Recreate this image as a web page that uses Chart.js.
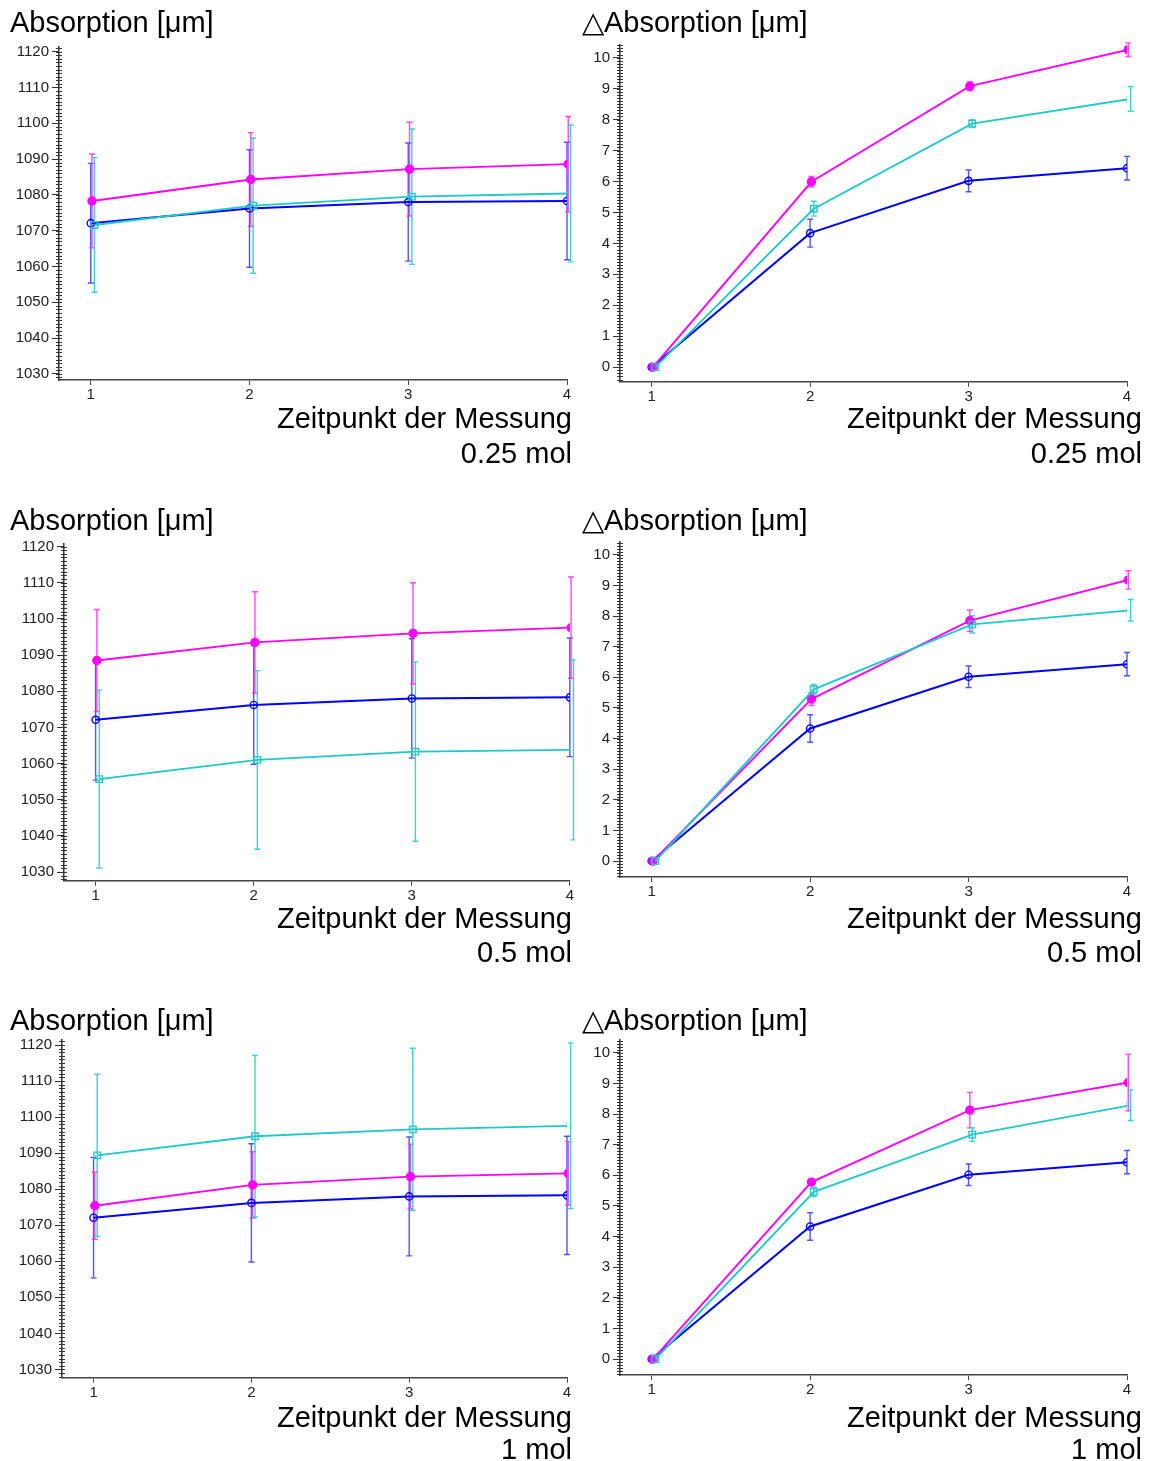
<!DOCTYPE html>
<html>
<head>
<meta charset="utf-8">
<script src="https://cdn.jsdelivr.net/npm/chart.js@4"></script>
<style>
html, body { margin: 0; padding: 0; background: #fff; overflow: hidden; }
canvas { position: absolute; }
</style>
</head>
<body>
<canvas id="p1" width="575" height="471" style="left:0;top:0"></canvas>
<canvas id="p2" width="576" height="471" style="left:575px;top:0"></canvas>
<canvas id="p3" width="575" height="471" style="left:0;top:495px"></canvas>
<canvas id="p4" width="576" height="471" style="left:575px;top:495px"></canvas>
<canvas id="p5" width="575" height="471" style="left:0;top:990px"></canvas>
<canvas id="p6" width="576" height="471" style="left:575px;top:990px"></canvas>
<script>
var zeitpunkte = [1, 2, 3, 4];

// Absorption, Kontrolle (blau) ist in allen drei Konzentrationen gleich
var absKontrolle = [1072.1, 1076.2, 1078.0, 1078.3];
var absKontrolleSD = [16.7, 16.4, 16.5, 16.4];

var abs025Magenta = [1078.3, 1084.3, 1087.2, 1088.6];
var abs025MagentaSD = [13.1, 13.1, 13.1, 13.3];
var abs025Cyan = [1071.6, 1077.0, 1079.5, 1080.4];
var abs025CyanSD = [18.8, 18.9, 18.9, 19.1];

var abs05Magenta = [1088.5, 1093.5, 1096.0, 1097.6];
var abs05MagentaSD = [14.1, 14.0, 14.0, 14.0];
var abs05Cyan = [1055.7, 1061.0, 1063.3, 1063.8];
var abs05CyanSD = [24.6, 24.7, 24.8, 24.9];

var abs1Magenta = [1075.4, 1081.2, 1083.5, 1084.4];
var abs1MagentaSD = [9.3, 9.2, 9.0, 8.8];
var abs1Cyan = [1089.4, 1094.7, 1096.6, 1097.6];
var abs1CyanSD = [22.5, 22.4, 22.5, 23.0];

// Delta Absorption
var dKontrolle = [0, 4.33, 6.02, 6.43];
var dKontrolleSD = [0, 0.45, 0.35, 0.38];

var d025Magenta = [0, 5.99, 9.08, 10.26];
var d025MagentaSD = [0, 0.17, 0.14, 0.22];
var d025Cyan = [0, 5.12, 7.87, 8.67];
var d025CyanSD = [0, 0.24, 0.13, 0.40];

var d05Magenta = [0, 5.29, 7.85, 9.18];
var d05MagentaSD = [0, 0.21, 0.35, 0.30];
var d05Cyan = [0, 5.61, 7.73, 8.19];
var d05CyanSD = [0, 0.16, 0.28, 0.35];

var d1Magenta = [0, 5.78, 8.13, 9.03];
var d1MagentaSD = [0, 0.08, 0.58, 0.92];
var d1Cyan = [0, 5.46, 7.33, 8.29];
var d1CyanSD = [0, 0.15, 0.22, 0.50];

var stilBlau = { farbe: '#0000ff', balken: 'rgba(40,40,255,0.8)', punkt: 'circle', radius: 3.6, fuellung: 'rgba(0,0,0,0)', dodge: 0, order: 2, breite: 2 };
var stilMagenta = { farbe: '#ff00ff', balken: 'rgba(255,40,255,0.85)', punkt: 'circle', radius: 4, fuellung: '#ff00ff', dodge: 0.008, order: 1, breite: 1.9 };
var stilCyan = { farbe: '#20c8c8', balken: 'rgba(32,200,200,0.85)', punkt: 'rect', radius: 4.6, fuellung: 'rgba(0,0,0,0)', dodge: 0.023, order: 0, breite: 1.9 };

var schrift = 'Liberation Sans, Arial, Helvetica, sans-serif';

// Fehlerbalken (Mittelwert +/- SD)
var fehlerbalken = {
    id: 'fehlerbalken',
    beforeDatasetsDraw: function (chart) {
        var ctx = chart.ctx;
        var y = chart.scales.y;
        ctx.save();
        chart.data.datasets.forEach(function (ds, i) {
            var meta = chart.getDatasetMeta(i);
            ctx.strokeStyle = ds.balkenFarbe;
            ctx.lineWidth = 1.4;
            meta.data.forEach(function (pt, j) {
                var sd = ds.fehler[j];
                if (!sd) return;
                var v = ds.data[j].y;
                var oben = y.getPixelForValue(v + sd);
                var unten = y.getPixelForValue(v - sd);
                ctx.beginPath();
                ctx.moveTo(pt.x, oben); ctx.lineTo(pt.x, unten);
                ctx.moveTo(pt.x - 3, oben); ctx.lineTo(pt.x + 3, oben);
                ctx.moveTo(pt.x - 3, unten); ctx.lineTo(pt.x + 3, unten);
                ctx.stroke();
            });
        });
        ctx.restore();
    }
};

// kleine Zwischenstriche an der y-Achse (ueber die Achse hinweg)
var nebenstriche = {
    id: 'nebenstriche',
    afterDraw: function (chart, args, opts) {
        var y = chart.scales.y;
        var ctx = chart.ctx;
        var x0 = chart.chartArea.left;
        ctx.save();
        ctx.strokeStyle = '#333';
        ctx.lineWidth = 1;
        var start = Math.ceil(y.min / opts.schritt - 1e-6);
        var ende = Math.floor(y.max / opts.schritt + 1e-6);
        ctx.beginPath();
        for (var k = start; k <= ende; k++) {
            var py = Math.round(y.getPixelForValue(k * opts.schritt)) + 0.5;
            ctx.moveTo(x0 - 3, py);
            ctx.lineTo(x0 + 3, py);
        }
        ctx.stroke();
        ctx.restore();
    }
};

// Achsenbeschriftung unten rechts
var unterschrift = {
    id: 'unterschrift',
    afterDraw: function (chart, args, opts) {
        var ctx = chart.ctx;
        ctx.save();
        ctx.fillStyle = '#000';
        ctx.font = '29px ' + schrift;
        ctx.textAlign = 'right';
        ctx.textBaseline = 'middle';
        opts.zeilen.forEach(function (z, i) {
            ctx.fillText(z, opts.rechts, opts.y[i]);
        });
        ctx.restore();
    }
};

function reihe(werte, sd, stil) {
    return {
        data: zeitpunkte.map(function (t, i) { return { x: t + stil.dodge, y: werte[i] }; }),
        fehler: sd,
        balkenFarbe: stil.balken,
        borderColor: stil.farbe,
        backgroundColor: stil.farbe,
        borderWidth: stil.breite,
        pointStyle: stil.punkt,
        pointRadius: stil.radius,
        pointBackgroundColor: stil.fuellung,
        pointBorderColor: stil.farbe,
        pointBorderWidth: 1.4,
        tension: 0,
        order: stil.order
    };
}

function diagramm(id, g) {
    var breite = document.getElementById(id).width;
    var titelPadTop = g.titelY - 17.4;
    new Chart(document.getElementById(id), {
        type: 'line',
        data: { datasets: g.reihen },
        plugins: [fehlerbalken, nebenstriche, unterschrift],
        options: {
            responsive: false,
            animation: false,
            layout: { autoPadding: false, padding: { left: g.titelX, right: breite - g.rechts, top: 0, bottom: 0 } },
            scales: {
                x: {
                    type: 'linear',
                    min: 0.8,
                    max: 4,
                    afterFit: function (s) { s.height = 471 - g.unten; },
                    border: { display: true, color: '#444', width: 1.5 },
                    grid: { display: true, drawOnChartArea: false, tickLength: 5, color: '#444' },
                    ticks: {
                        stepSize: 1, includeBounds: false, padding: 1, color: '#222',
                        font: { family: schrift, size: 15 },
                        callback: function (v) { return String(v); }
                    }
                },
                y: {
                    min: g.yMin,
                    max: g.yMax,
                    afterFit: function (s) { s.width = g.links - g.titelX; },
                    border: { display: true, color: '#333', width: 1.5 },
                    grid: { display: true, drawOnChartArea: false, tickLength: 7, color: '#333' },
                    ticks: {
                        stepSize: g.schritt, includeBounds: false, padding: 3, color: '#222',
                        font: { family: schrift, size: 15 },
                        callback: function (v) { return String(v); }
                    }
                }
            },
            plugins: {
                legend: { display: false },
                tooltip: { enabled: false },
                title: {
                    display: true,
                    text: g.titel,
                    align: 'start',
                    color: '#000',
                    font: { family: schrift, size: 29, weight: 'normal', lineHeight: 1.2 },
                    padding: { top: titelPadTop, bottom: g.oben - 34.8 - titelPadTop }
                },
                nebenstriche: { schritt: g.neben },
                unterschrift: { zeilen: ['Zeitpunkt der Messung', g.mol], rechts: g.textRechts, y: g.textY }
            }
        }
    });
}

var titelAbs = 'Absorption [\u03bcm]';
var titelDelta = '\u25b3Absorption [\u03bcm]';

diagramm('p1', {
    titel: titelAbs, mol: '0.25 mol', titelX: 10, titelY: 24, oben: 47, unten: 380, links: 59, rechts: 567,
    textRechts: 572, textY: [420, 455], yMin: 1028.3, yMax: 1121.3, schritt: 10, neben: 1,
    reihen: [reihe(absKontrolle, absKontrolleSD, stilBlau), reihe(abs025Magenta, abs025MagentaSD, stilMagenta), reihe(abs025Cyan, abs025CyanSD, stilCyan)]
});
diagramm('p2', {
    titel: titelDelta, mol: '0.25 mol', titelX: 7, titelY: 24, oben: 45, unten: 381.7, links: 45, rechts: 552,
    textRechts: 567, textY: [420, 455], yMin: -0.47, yMax: 10.41, schritt: 1, neben: 0.1,
    reihen: [reihe(dKontrolle, dKontrolleSD, stilBlau), reihe(d025Magenta, d025MagentaSD, stilMagenta), reihe(d025Cyan, d025CyanSD, stilCyan)]
});
diagramm('p3', {
    titel: titelAbs, mol: '0.5 mol', titelX: 10, titelY: 27, oben: 48.3, unten: 385.7, links: 64, rechts: 571,
    textRechts: 572, textY: [425, 459], yMin: 1027.6, yMax: 1120.9, schritt: 10, neben: 1,
    reihen: [reihe(absKontrolle, absKontrolleSD, stilBlau), reihe(abs05Magenta, abs05MagentaSD, stilMagenta), reihe(abs05Cyan, abs05CyanSD, stilCyan)]
});
diagramm('p4', {
    titel: titelDelta, mol: '0.5 mol', titelX: 7, titelY: 27, oben: 47, unten: 382, links: 45, rechts: 552,
    textRechts: 567, textY: [425, 459], yMin: -0.52, yMax: 10.42, schritt: 1, neben: 0.1,
    reihen: [reihe(dKontrolle, dKontrolleSD, stilBlau), reihe(d05Magenta, d05MagentaSD, stilMagenta), reihe(d05Cyan, d05CyanSD, stilCyan)]
});
diagramm('p5', {
    titel: titelAbs, mol: '1 mol', titelX: 10, titelY: 32, oben: 50, unten: 387.7, links: 62, rechts: 567,
    textRechts: 572, textY: [429, 461], yMin: 1027.7, yMax: 1121.4, schritt: 10, neben: 1,
    reihen: [reihe(absKontrolle, absKontrolleSD, stilBlau), reihe(abs1Magenta, abs1MagentaSD, stilMagenta), reihe(abs1Cyan, abs1CyanSD, stilCyan)]
});
diagramm('p6', {
    titel: titelDelta, mol: '1 mol', titelX: 7, titelY: 32, oben: 50, unten: 385, links: 45, rechts: 552,
    textRechts: 567, textY: [429, 461], yMin: -0.52, yMax: 10.42, schritt: 1, neben: 0.1,
    reihen: [reihe(dKontrolle, dKontrolleSD, stilBlau), reihe(d1Magenta, d1MagentaSD, stilMagenta), reihe(d1Cyan, d1CyanSD, stilCyan)]
});
</script>
</body>
</html>
